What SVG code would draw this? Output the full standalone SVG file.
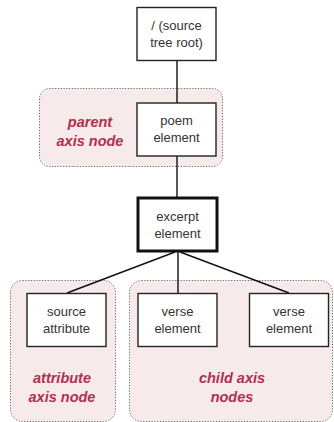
<svg xmlns="http://www.w3.org/2000/svg" width="334" height="422" viewBox="0 0 334 422">
<style>
.grp{fill:#f6eaea;stroke:#666;stroke-width:1;stroke-dasharray:1.2 1.6}
.box{fill:#fff;stroke:#222;stroke-width:1.4}
.focus{fill:#fff;stroke:#111;stroke-width:3}
.t{font-family:"Liberation Sans",Arial,sans-serif;font-size:13px;fill:#333;text-anchor:middle}
.lab{font-family:"Liberation Sans",Arial,sans-serif;font-size:14.5px;font-weight:bold;font-style:italic;fill:#b0304f;text-anchor:middle}
.c{stroke:#111;stroke-width:1.4;fill:none}
</style>
<rect width="334" height="422" fill="#fff"/>
<g id="parent-axis">
<rect class="grp" x="39.5" y="88.5" width="183" height="78" rx="10"/>
<text class="lab" x="90" y="127">parent</text>
<text class="lab" x="90" y="146">axis node</text>
</g>
<g id="attribute-axis">
<rect class="grp" x="10.5" y="280.5" width="105" height="141" rx="12"/>
<text class="lab" x="62" y="383">attribute</text>
<text class="lab" x="62" y="402">axis node</text>
</g>
<g id="child-axis">
<rect class="grp" x="129.5" y="280.5" width="203" height="141" rx="12"/>
<text class="lab" x="232" y="383">child axis</text>
<text class="lab" x="232" y="402">nodes</text>
</g>
<g id="connectors">
<line class="c" x1="177" y1="60" x2="177" y2="103"/>
<line class="c" x1="177" y1="156" x2="177" y2="198"/>
<line class="c" x1="175" y1="252" x2="67" y2="293"/>
<line class="c" x1="178" y1="252" x2="178" y2="293" stroke="#555"/>
<line class="c" x1="180" y1="252" x2="289" y2="293"/>
</g>
<g id="root">
<rect class="box" x="137" y="7.5" width="79" height="53"/>
<text class="t" x="176.5" y="30">/ (source</text>
<text class="t" x="176.5" y="47">tree root)</text>
</g>
<g id="poem">
<rect class="box" x="137" y="103" width="79" height="53"/>
<text class="t" x="176.5" y="125">poem</text>
<text class="t" x="176.5" y="142">element</text>
</g>
<g id="excerpt">
<rect class="focus" x="138" y="198" width="79" height="53"/>
<text class="t" x="177.5" y="221">excerpt</text>
<text class="t" x="177.5" y="238">element</text>
</g>
<g id="source">
<rect class="box" x="27" y="293.5" width="79" height="53"/>
<text class="t" x="66.5" y="316">source</text>
<text class="t" x="66.5" y="333">attribute</text>
</g>
<g id="verse1">
<rect class="box" x="138" y="293.5" width="79" height="53"/>
<text class="t" x="177.5" y="316">verse</text>
<text class="t" x="177.5" y="333">element</text>
</g>
<g id="verse2">
<rect class="box" x="249.5" y="293.5" width="79" height="53"/>
<text class="t" x="289" y="316">verse</text>
<text class="t" x="289" y="333">element</text>
</g>
</svg>
